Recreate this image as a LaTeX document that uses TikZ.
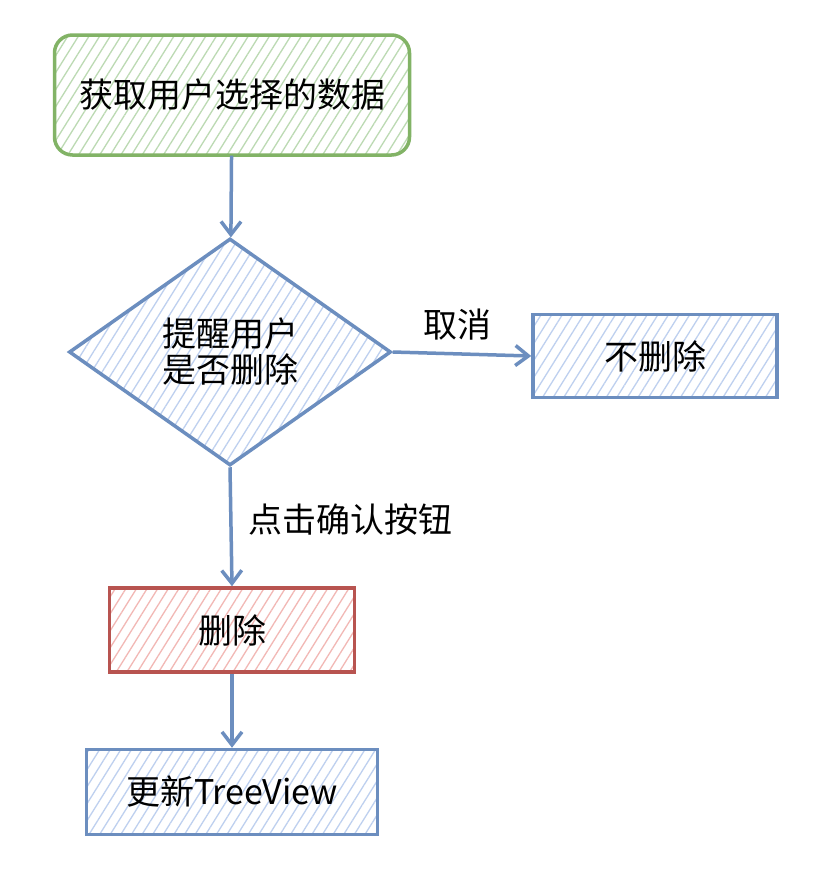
\documentclass[tikz,border=0pt]{standalone}
\usepackage{fontspec}
\setmainfont{Noto Sans CJK SC}
\usetikzlibrary{shapes.geometric,arrows.meta,patterns.meta}
\definecolor{greenline}{HTML}{82B366}
\definecolor{greenhatch}{HTML}{BCDAB3}
\definecolor{blueline}{HTML}{6C8EBF}
\definecolor{bluehatch}{HTML}{BED0EF}
\definecolor{redline}{HTML}{B85450}
\definecolor{redhatch}{HTML}{F2B8B5}
\tikzset{
    box/.style={draw=#1line, line width=3.5pt, inner sep=0pt,
        pattern={Lines[angle=58,distance=9pt,line width=1.3pt]}, pattern color=#1hatch,
        font=\fontsize{34}{36}\selectfont},
    flow/.style={draw=blueline, line width=3.5pt, -{Straight Barb[length=13pt,width=20pt]}},
    lbl/.style={font=\fontsize{34}{36}\selectfont}
}
\begin{document}
\begin{tikzpicture}[x=1pt, y=-1pt]
    \fill[white] (0, 0) rectangle (830, 892);
    \useasboundingbox (0, 0) rectangle (830, 892);
    % boxes
    \node[box=green, rounded corners=18pt, minimum width=355pt, minimum height=120pt] (fetch) at (232, 95) {获取用户选择的数据};
    \node[box=blue, diamond, minimum width=322pt, minimum height=227pt, align=center] (ask) at (230, 352) {提醒用户\\是否删除};
    \node[box=blue, minimum width=244pt, minimum height=83pt] (keep) at (655, 356) {不删除};
    \node[box=red, minimum width=245pt, minimum height=84pt] (del) at (232, 630) {删除};
    \node[box=blue, minimum width=291pt, minimum height=85pt] (update) at (232, 792) {更新TreeView};
    % arrows
    \draw[flow] (fetch) -- (ask);
    \draw[flow] (ask.east) -- (keep.west);
    \draw[flow] (ask.south) -- (del.north);
    \draw[flow] (del) -- (update);
    % labels
    \node[lbl] (cancel) at (457, 325) {取消};
    \node[lbl] (confirm) at (350, 520) {点击确认按钮};
\end{tikzpicture}
\end{document}
